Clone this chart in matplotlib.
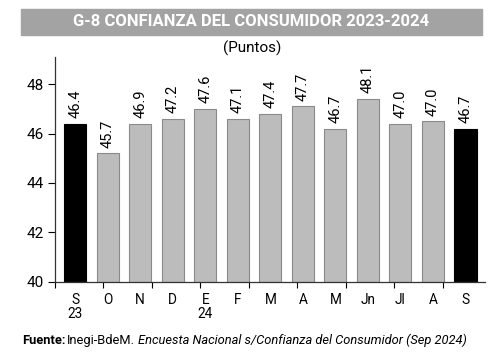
import numpy as np
import matplotlib
matplotlib.use("Agg")
import matplotlib.pyplot as plt
from matplotlib.patches import Rectangle

months = ["S\n23", "O", "N", "D", "E\n24", "F", "M", "A", "M", "Jn", "Jl", "A", "S"]
bar_heights = [46.4, 45.2, 46.4, 46.6, 47.0, 46.6, 46.8, 47.1, 46.2, 47.4, 46.4, 46.5, 46.2]
value_labels = ["46.4", "45.7", "46.9", "47.2", "47.6", "47.1", "47.4", "47.7",
                "46.7", "48.1", "47.0", "47.0", "46.7"]
highlight = [0, 12]

plt.rcParams["font.family"] = ["Roboto", "DejaVu Sans"]

fig = plt.figure(figsize=(5, 3.58), dpi=100)
ax = fig.add_axes([0.11, 0.2131, 0.86, 0.6277])

x = np.arange(len(months))
colors = ["black" if i in highlight else "#bcbcbc" for i in x]
edges = ["black" if i in highlight else "#8a8a8a" for i in x]
ax.bar(x, [h - 40 for h in bar_heights], bottom=40, width=0.68,
       color=colors, edgecolor=edges, linewidth=0.8)

for xi, h, lab in zip(x, bar_heights, value_labels):
    ax.annotate(lab, (xi, h), xytext=(0, 4), textcoords="offset points",
                rotation=90, ha="center", va="bottom", fontsize=10.5)

ax.set_ylim(40, 49.1)
ax.set_xlim(-0.62, 12.6)
ax.set_yticks([40, 42, 44, 46, 48])
ax.tick_params(axis="y", length=5, width=0.8, labelsize=11, pad=3)

ax.set_xticks(x)
ax.set_xticklabels(months, fontsize=9.8, linespacing=1.0)
ax.tick_params(axis="x", which="major", length=0, pad=8)
ax.set_xticks(-0.62 + 1.49 * np.arange(9), minor=True)
ax.tick_params(axis="x", which="minor", length=4, width=0.8)

for s in ["top", "right"]:
    ax.spines[s].set_visible(False)
for s in ["left", "bottom"]:
    ax.spines[s].set_color("#333333")
    ax.spines[s].set_linewidth(0.9)

# title bar
fig.patches.append(Rectangle((21 / 500, 1 - 35 / 358), 461 / 500, 26 / 358,
                             transform=fig.transFigure, color="#a3a3a3", zorder=0))
fig.text(251 / 500, 1 - 22 / 358, "G-8 CONFIANZA DEL CONSUMIDOR 2023-2024",
         ha="center", va="center", color="white", fontsize=12, fontweight="bold")
fig.text(252 / 500, 1 - 48 / 358, "(Puntos)", ha="center", va="center", fontsize=11)

# source line
fig.canvas.draw()
r = fig.canvas.get_renderer()
y_src = 1 - 344 / 358
t1 = fig.text(22 / 500, y_src, "Fuente:", fontweight="bold", fontsize=9.3, va="baseline")
bb = t1.get_window_extent(r)
t2 = fig.text(bb.x1 / 500 + 0.004, y_src, "Inegi-BdeM.", fontsize=9.3, va="baseline")
bb = t2.get_window_extent(r)
fig.text(bb.x1 / 500 + 0.006, y_src,
         "Encuesta Nacional s/Confianza del Consumidor (Sep 2024)",
         style="italic", fontsize=9.3, va="baseline")

fig.savefig("out.png", dpi=100)
